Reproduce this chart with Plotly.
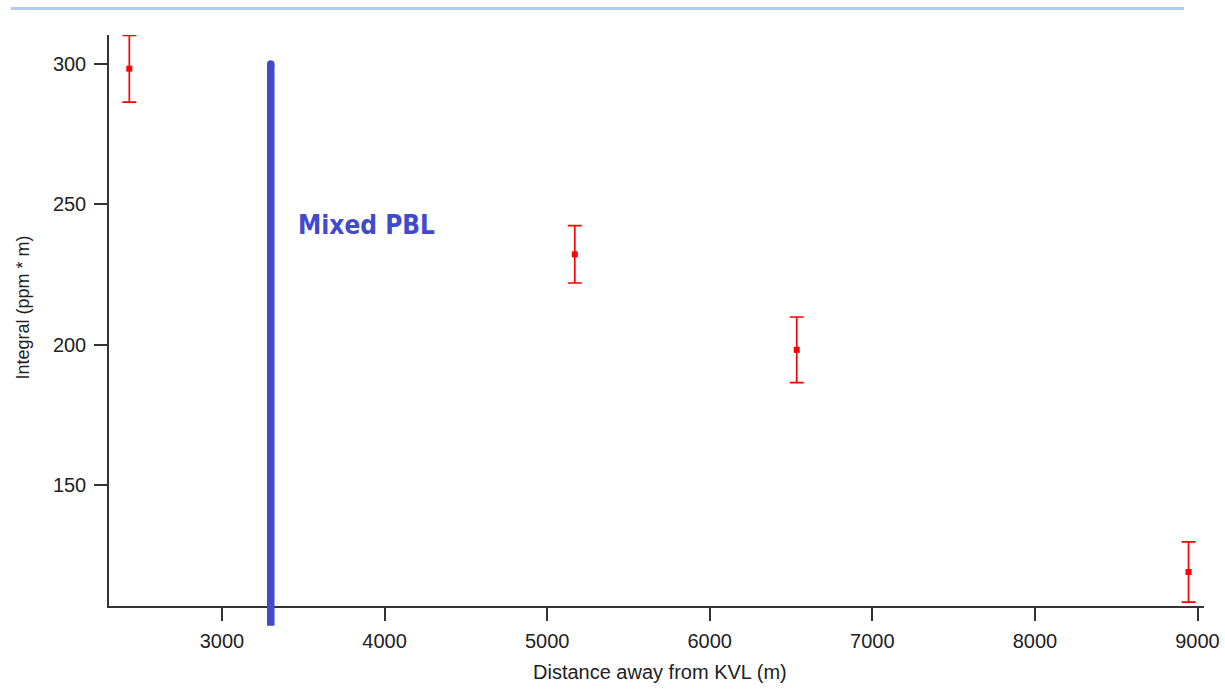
import plotly.graph_objects as go

# ---- data ----
distance_m = [2430, 5170, 6535, 8945]
integral = [298.3, 232.2, 198.2, 119.1]
integral_err = [11.9, 10.2, 11.7, 10.7]

pbl_x = 3300
pbl_y = [100, 300]
pbl_label = "Mixed PBL"

x_title = "Distance away from KVL (m)"
y_title = "Integral (ppm * m)"
x_ticks = [3000, 4000, 5000, 6000, 7000, 8000, 9000]
y_ticks = [150, 200, 250, 300]

x_range = [2305, 9040]
y_range = [107, 310.3]

BLUE = "#4149cd"
RED = "#ff0000"
AX = "#333333"
TXT = "#222222"
FONT = "Liberation Sans, Arial, sans-serif"

fig = go.Figure()

# end caps of the PBL line (round caps)
fig.add_trace(go.Scatter(
    x=[pbl_x, pbl_x], y=pbl_y, mode="markers",
    marker=dict(symbol="circle", size=7.5, color=BLUE, line=dict(width=0)),
    cliponaxis=False, hoverinfo="skip", showlegend=False,
))

fig.add_trace(go.Scatter(
    x=distance_m, y=integral, mode="markers",
    marker=dict(symbol="square", size=6, color=RED, line=dict(width=0)),
    error_y=dict(type="data", array=integral_err, visible=True,
                 color=RED, thickness=1.7, width=7),
    cliponaxis=False, showlegend=False,
))

def ypaper(v):
    return (v - y_range[0]) / (y_range[1] - y_range[0])

fig.add_shape(type="line", xref="x", yref="paper",
              x0=pbl_x, x1=pbl_x, y0=ypaper(pbl_y[0]), y1=ypaper(pbl_y[1]),
              line=dict(color=BLUE, width=7.5), layer="above")

# decorative rule at top of page
fig.add_shape(type="line", xref="paper", yref="paper",
              x0=-0.0895, x1=0.9817, y0=1.0464, y1=1.0464,
              line=dict(color="#b3cde6", width=3))

fig.add_annotation(x=3458, y=242.5, xref="x", yref="y", text=pbl_label,
                   showarrow=False, xanchor="left", yanchor="middle",
                   font=dict(family="Liberation Sans Narrow, DejaVu Sans Condensed, Arial Narrow, sans-serif",
                             size=26, color=BLUE, weight="bold"))

fig.add_annotation(x=0.5, y=0, xref="paper", yref="paper", text=x_title,
                   showarrow=False, xanchor="center", yanchor="middle",
                   xshift=3, yshift=-66,
                   font=dict(family=FONT, size=20, color=TXT))
fig.add_annotation(x=0, y=0.5, xref="paper", yref="paper", text=y_title,
                   showarrow=False, xanchor="center", yanchor="middle",
                   textangle=-90, xshift=-87, yshift=13,
                   font=dict(family=FONT, size=18, color=TXT))

axis_common = dict(showline=True, linecolor=AX, linewidth=1.5,
                   ticks="outside", ticklen=13, tickwidth=1.5, tickcolor=AX,
                   showgrid=False, zeroline=False,
                   tickfont=dict(family=FONT, size=20, color=TXT))

fig.update_xaxes(range=x_range, tickvals=x_ticks, ticktext=[str(v) for v in x_ticks],
                 ticklabelstandoff=3, **axis_common)
fig.update_yaxes(range=y_range, tickvals=y_ticks, ticktext=[str(v) for v in y_ticks],
                 ticklabelstandoff=4, **axis_common)

fig.update_layout(
    width=1225, height=689,
    margin=dict(l=109, r=21, t=35, b=83, autoexpand=False),
    paper_bgcolor="white", plot_bgcolor="white",
    showlegend=False,
)

fig.write_html("out.html")
